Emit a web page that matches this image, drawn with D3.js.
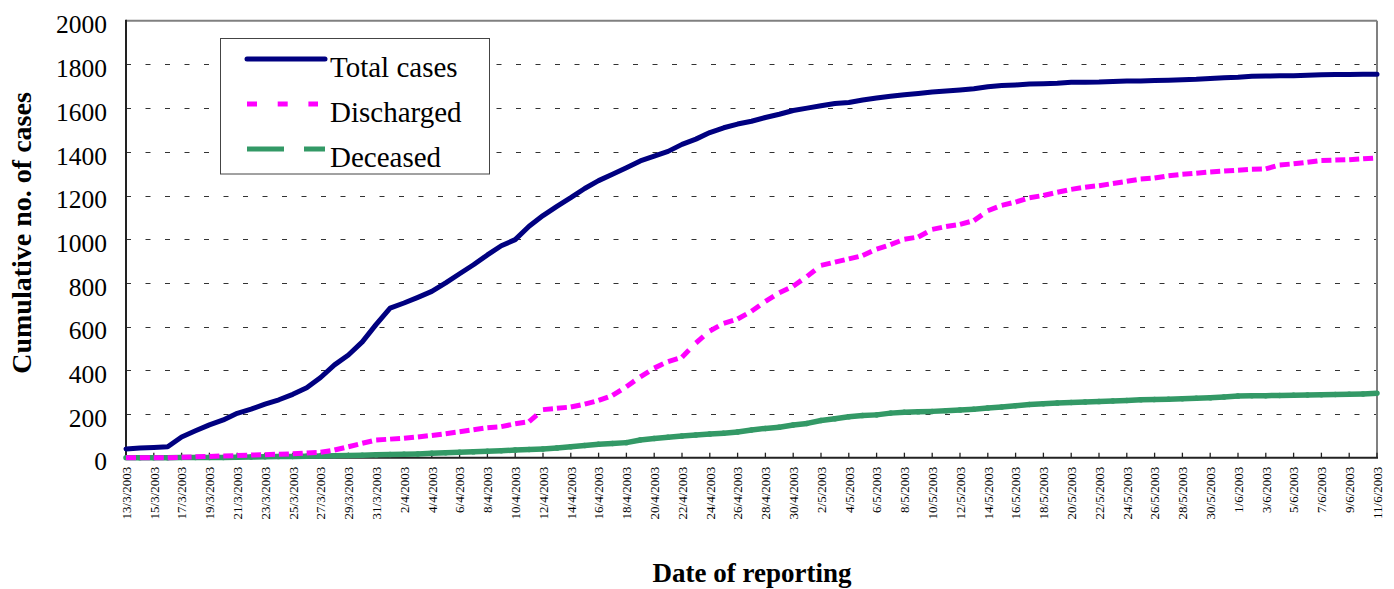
<!DOCTYPE html>
<html>
<head>
<meta charset="utf-8">
<script src="https://cdn.jsdelivr.net/npm/d3@7"></script>
<style>
  html, body { margin: 0; padding: 0; background: #fff; }
  svg { display: block; }
  text { font-family: "Liberation Serif", "Times New Roman", serif; fill: #000; }
</style>
</head>
<body>
<svg id="chart" width="1394" height="589"></svg>
<script>
const dates = [
  "13/3/2003","14/3/2003","15/3/2003","16/3/2003","17/3/2003","18/3/2003","19/3/2003","20/3/2003","21/3/2003","22/3/2003",
  "23/3/2003","24/3/2003","25/3/2003","26/3/2003","27/3/2003","28/3/2003","29/3/2003","30/3/2003","31/3/2003","1/4/2003",
  "2/4/2003","3/4/2003","4/4/2003","5/4/2003","6/4/2003","7/4/2003","8/4/2003","9/4/2003","10/4/2003","11/4/2003",
  "12/4/2003","13/4/2003","14/4/2003","15/4/2003","16/4/2003","17/4/2003","18/4/2003","19/4/2003","20/4/2003","21/4/2003",
  "22/4/2003","23/4/2003","24/4/2003","25/4/2003","26/4/2003","27/4/2003","28/4/2003","29/4/2003","30/4/2003","1/5/2003",
  "2/5/2003","3/5/2003","4/5/2003","5/5/2003","6/5/2003","7/5/2003","8/5/2003","9/5/2003","10/5/2003","11/5/2003",
  "12/5/2003","13/5/2003","14/5/2003","15/5/2003","16/5/2003","17/5/2003","18/5/2003","19/5/2003","20/5/2003","21/5/2003",
  "22/5/2003","23/5/2003","24/5/2003","25/5/2003","26/5/2003","27/5/2003","28/5/2003","29/5/2003","30/5/2003","31/5/2003",
  "1/6/2003","2/6/2003","3/6/2003","4/6/2003","5/6/2003","6/6/2003","7/6/2003","8/6/2003","9/6/2003","10/6/2003","11/6/2003"
];

const totalCases = [
  40, 44, 47, 50, 95, 123, 150, 173, 203, 222,
  245, 265, 290, 320, 367, 425, 470, 530, 610, 685,
  708, 734, 761, 800, 842, 883, 928, 970, 998, 1059,
  1108, 1150, 1190, 1232, 1268, 1297, 1327, 1358, 1380, 1402,
  1434, 1458, 1488, 1510, 1527, 1540, 1557, 1572, 1589, 1600,
  1611, 1621, 1626, 1637, 1646, 1654, 1661, 1667, 1674, 1678,
  1683, 1689, 1698, 1703, 1706, 1710, 1712, 1714, 1718, 1718,
  1719, 1722, 1724, 1724, 1726, 1728, 1730, 1732, 1736, 1739,
  1741, 1746, 1747, 1748, 1748, 1750, 1753, 1754, 1754, 1755, 1755
];

const discharged = [
  0, 0, 0, 0, 2, 4, 6, 8, 10, 12,
  14, 16, 18, 22, 25, 35, 50, 66, 81, 85,
  89, 95, 102, 110, 119, 128, 137, 142, 155, 165,
  220, 226, 232, 245, 262, 285, 325, 370, 410, 440,
  460, 525, 580, 615, 635, 670, 715, 755, 785, 830,
  880, 895, 910, 925, 955, 975, 1000, 1010, 1045, 1058,
  1068, 1085, 1130, 1155, 1170, 1190, 1200, 1215, 1228, 1238,
  1245, 1255, 1265, 1275, 1280, 1290, 1297, 1302, 1308, 1312,
  1316, 1320, 1322, 1340, 1345, 1352, 1360, 1362, 1364, 1368, 1372
];

const deceased = [
  0, 0, 0, 0, 1, 1, 1, 1, 2, 3,
  4, 5, 6, 7, 8, 9, 10, 11, 13, 15,
  16, 17, 20, 23, 25, 27, 29, 32, 35, 38,
  40, 44, 50, 56, 62, 65, 69, 81, 88, 94,
  99, 104, 108, 112, 118, 127, 134, 139, 150, 157,
  170, 178, 187, 193, 196, 204, 208, 210, 212, 215,
  218, 222, 227, 232, 238, 243, 247, 250, 253, 255,
  257, 260, 262, 265, 266, 268, 270, 272, 274, 278,
  282, 284, 284, 285, 286, 287, 288, 289, 290, 292, 295
];

const yTicks = [0, 200, 400, 600, 800, 1000, 1200, 1400, 1600, 1800, 2000];
const seriesNames = ["Total cases", "Discharged", "Deceased"];

const svg = d3.select("#chart");
const pLeft = 126, pRight = 1377, pTop = 20.7, pBottom = 457.7;

const x = d3.scalePoint().domain(dates).range([pLeft, pRight]);
const y = d3.scaleLinear().domain([0, 2000]).range([pBottom, pTop]);

// gridlines
svg.append("g").selectAll("line")
  .data(yTicks.filter(v => v > 0 && v < 2000))
  .join("line")
  .attr("x1", pLeft).attr("x2", pRight)
  .attr("y1", d => Math.round(y(d)) + 0.5).attr("y2", d => Math.round(y(d)) + 0.5)
  .attr("stroke", "#333").attr("stroke-width", 1)
  .attr("stroke-dasharray", "5,14.5");

// plot border (top and right grey)
svg.append("line").attr("x1", pLeft).attr("x2", pRight).attr("y1", pTop).attr("y2", pTop)
  .attr("stroke", "#808080").attr("stroke-width", 2);
svg.append("line").attr("x1", pRight).attr("x2", pRight).attr("y1", pTop).attr("y2", pBottom)
  .attr("stroke", "#808080").attr("stroke-width", 2);

// y axis
const yAxis = d3.axisLeft(y).tickValues(yTicks).tickSize(0).tickPadding(0).tickFormat(d3.format("d"));
const gy = svg.append("g").attr("transform", `translate(${pLeft},0)`).call(yAxis);
gy.select(".domain").remove();
gy.selectAll("text")
  .attr("x", -19).attr("dy", "0.48em")
  .style("font-size", "25.5px")
  .style("font-family", "'Liberation Serif', serif")
  .attr("fill", "#000");
svg.append("line").attr("x1", pLeft).attr("x2", pLeft).attr("y1", pTop - 1).attr("y2", pBottom + 1)
  .attr("stroke", "#222").attr("stroke-width", 2);

// x axis
const tickDates = dates.filter((d, i) => i % 2 === 0);
const xAxis = d3.axisBottom(x).tickValues(tickDates).tickSize(0).tickPadding(0);
const gx = svg.append("g").attr("transform", `translate(0,${pBottom})`).call(xAxis);
gx.select(".domain").remove();
gx.selectAll("text")
  .attr("transform", "rotate(-90)")
  .attr("x", -9).attr("y", 0).attr("dy", "0.33em")
  .attr("text-anchor", "end")
  .style("font-size", "13px")
  .style("font-family", "'Liberation Serif', serif")
  .attr("fill", "#000");
svg.append("g").selectAll("line").data(tickDates).join("line")
  .attr("x1", d => x(d)).attr("x2", d => x(d))
  .attr("y1", pBottom - 5).attr("y2", pBottom)
  .attr("stroke", "#222").attr("stroke-width", 1.3);
svg.append("line").attr("x1", pLeft - 1).attr("x2", pRight + 1).attr("y1", pBottom).attr("y2", pBottom)
  .attr("stroke", "#222").attr("stroke-width", 2);

// series
const idx = d3.range(dates.length);
const segs = arr => idx.slice(1).map(i => [i - 1, i, arr]);

// deceased (green, long dash restarting per segment => looks solid)
svg.append("g").selectAll("line").data(segs(deceased)).join("line")
  .attr("x1", d => x(dates[d[0]])).attr("y1", d => y(d[2][d[0]]))
  .attr("x2", d => x(dates[d[1]])).attr("y2", d => y(d[2][d[1]]))
  .attr("stroke", "#339966").attr("stroke-width", 5.5)
  .attr("stroke-linecap", "round")
  .attr("stroke-dasharray", "37,20");

// discharged (magenta dash, restarting per segment)
svg.append("g").selectAll("line").data(segs(discharged)).join("line")
  .attr("x1", d => x(dates[d[0]])).attr("y1", d => y(d[2][d[0]]))
  .attr("x2", d => x(dates[d[1]])).attr("y2", d => y(d[2][d[1]]))
  .attr("stroke", "#FF00FF").attr("stroke-width", 5)
  .attr("stroke-dasharray", "10,20");

// total cases (navy solid)
svg.append("path")
  .datum(totalCases)
  .attr("fill", "none")
  .attr("stroke", "#000080").attr("stroke-width", 5)
  .attr("stroke-linejoin", "round").attr("stroke-linecap", "round")
  .attr("d", d3.line().x((d, i) => x(dates[i])).y(d => y(d)));

// legend
const lg = svg.append("g");
lg.append("rect").attr("x", 220.5).attr("y", 38.5).attr("width", 269).attr("height", 135.5)
  .attr("fill", "#fff").attr("stroke", "#444").attr("stroke-width", 1);
const legendRows = [
  {name: seriesNames[0], color: "#000080", dash: null, y: 59, x2: 325},
  {name: seriesNames[1], color: "#FF00FF", dash: "10,20.7", y: 104, x2: 318},
  {name: seriesNames[2], color: "#339966", dash: "37,20", y: 149, x2: 325}
];
legendRows.forEach(r => {
  lg.append("line").attr("x1", 247).attr("x2", r.x2).attr("y1", r.y).attr("y2", r.y)
    .attr("stroke", r.color).attr("stroke-width", 5)
    .attr("stroke-linecap", r.dash ? "butt" : "round")
    .attr("stroke-dasharray", r.dash);
  lg.append("text").attr("x", 330).attr("y", r.y + 18)
    .style("font-size", "29px").text(r.name);
});

// axis titles
svg.append("text").attr("x", 752).attr("y", 582).attr("text-anchor", "middle")
  .style("font-size", "27px").style("font-weight", "bold").text("Date of reporting");
svg.append("text").attr("transform", "translate(31,233) rotate(-90)").attr("text-anchor", "middle")
  .style("font-size", "28px").style("font-weight", "bold").text("Cumulative no. of cases");
</script>
</body>
</html>
